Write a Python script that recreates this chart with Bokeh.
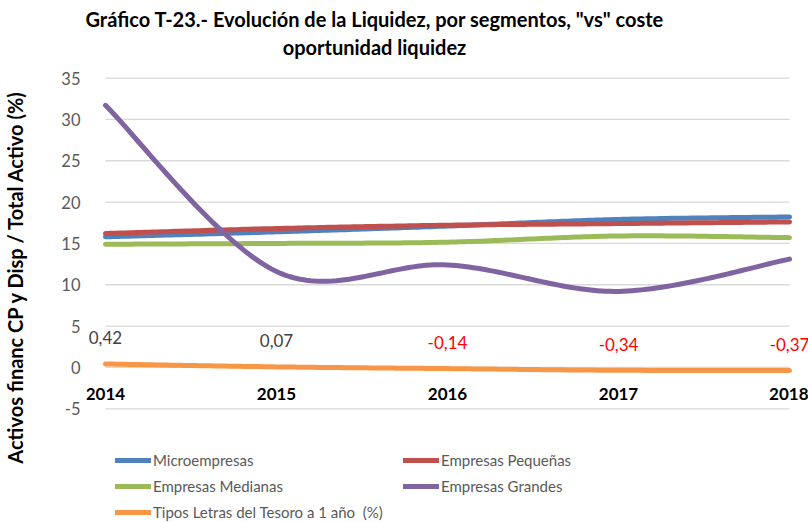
import numpy as np
from bokeh.plotting import figure
from bokeh.models import (Range1d, FixedTicker, Label, LabelSet, ColumnDataSource,
                          Legend, LegendItem, Title)
from bokeh.core.properties import value
from bokeh.embed import file_html
from bokeh.resources import INLINE

# ---------------- data ----------------
years = [2014, 2015, 2016, 2017, 2018]
year_labels = ["2014", "2015", "2016", "2017", "2018"]
microempresas = [15.8, 16.4, 17.1, 17.9, 18.2]
pequenas = [16.2, 16.8, 17.2, 17.4, 17.6]
medianas = [14.9, 15.0, 15.15, 15.9, 15.7]
grandes = [31.7, 11.6, 12.4, 9.2, 13.1]
letras = [0.42, 0.07, -0.14, -0.34, -0.37]
y_ticks = [-5, 0, 5, 10, 15, 20, 25, 30, 35]
y_tick_labels = ["-5", "0", "5", "10", "15", "20", "25", "30", "35"]

series_names = ["Microempresas", "Empresas Pequeñas", "Empresas Medianas",
                "Empresas Grandes", "Tipos Letras del Tesoro a 1 año  (%)"]
series_colors = ["#4F81BD", "#C0504D", "#9BBB59", "#8064A2", "#F79646"]

title_lines = ['Gráfico T-23.- Evolución de la Liquidez, por segmentos, "vs" coste',
               "oportunidad liquidez"]
y_title = "Activos financ CP y Disp / Total Activo (%)"

FONT = "Lato"


def smooth(xs, ys, n=40):
    """Smoothed line through the points (cubic Bezier, Excel-like smoothing)."""
    P = np.column_stack([np.asarray(xs, float), np.asarray(ys, float)])
    m = len(P)
    out = []
    for i in range(m - 1):
        p0 = P[i - 1] if i > 0 else P[i]
        p1, p2 = P[i], P[i + 1]
        p3 = P[i + 2] if i + 2 < m else P[i + 1]
        c1 = p1 + (p2 - p0) / 6.0
        c2 = p2 - (p3 - p1) / 6.0
        t = np.linspace(0, 1, n, endpoint=(i == m - 2))[:, None]
        seg = ((1 - t) ** 3) * p1 + 3 * ((1 - t) ** 2) * t * c1 + 3 * (1 - t) * t ** 2 * c2 + t ** 3 * p2
        out.append(seg)
    out = np.vstack(out)
    return out[:, 0], out[:, 1]


# view window (the frame also holds the labels and the legend)
x_view = (2013.889, 2018.111)
y_view = (-18.75, 40.75)

p = figure(width=808, height=522, x_range=Range1d(*x_view), y_range=Range1d(*y_view),
           output_backend="svg", toolbar_location=None, title=None,
           min_border_left=84, min_border_right=0, min_border_top=30, min_border_bottom=0)
p.outline_line_color = None
p.background_fill_color = "white"
p.border_fill_color = "white"
p.xgrid.grid_line_color = None
p.ygrid.grid_line_color = None

# y axis
p.yaxis.ticker = FixedTicker(ticks=y_ticks)
p.yaxis.major_label_overrides = {t: s for t, s in zip(y_ticks, y_tick_labels)}
p.yaxis.axis_line_color = None
p.yaxis.major_tick_line_color = None
p.yaxis.minor_tick_line_color = None
p.yaxis.major_label_standoff = 0
p.yaxis.major_label_text_font = FONT
p.yaxis.major_label_text_font_size = "16.5px"
p.yaxis.major_label_text_color = "#595959"
p.yaxis.axis_label = y_title
p.yaxis.axis_label_standoff = 31
p.yaxis.axis_label_text_font = FONT
p.yaxis.axis_label_text_font_style = "bold"
p.yaxis.axis_label_text_font_size = "20px"
p.yaxis.axis_label_text_color = "#000000"

# x axis at y = 0
p.xaxis.ticker = FixedTicker(ticks=years)
p.xaxis.major_label_overrides = {y: lab for y, lab in zip(years, year_labels)}
p.xaxis.fixed_location = 0
p.xaxis.axis_line_color = None
p.xaxis.major_tick_line_color = None
p.xaxis.minor_tick_line_color = None
p.xaxis.major_label_standoff = 15
p.xaxis.major_label_text_font = FONT
p.xaxis.major_label_text_font_style = "bold"
p.xaxis.major_label_text_font_size = "17px"
p.xaxis.major_label_text_color = "#000000"

# horizontal gridlines, spanning the category extent only
p.segment(x0=[years[0]] * len(y_ticks), x1=[years[-1]] * len(y_ticks),
          y0=y_ticks, y1=y_ticks, line_color="#D9D9D9", line_width=1.3)

# lines
renderers = []
for vals, col in zip([microempresas, pequenas, medianas, grandes, letras], series_colors):
    sx, sy = smooth(years, vals)
    r = p.line(sx, sy, line_color=col, line_width=5, line_cap="round", line_join="round")
    renderers.append(r)

# data labels of the treasury rate
lab_src = ColumnDataSource(dict(
    x=years, y=letras,
    text=[("%.2f" % v).replace(".", ",") for v in letras],
    color=["#FF0000" if v < 0 else "#404040" for v in letras],
))
p.add_layout(LabelSet(x="x", y="y", text="text", source=lab_src, text_color="color",
                      text_font=value(FONT), text_font_size="17px",
                      text_align="center", text_baseline="middle", y_offset=26))

# title: first line above the frame, second line inside it
p.add_layout(Title(text=title_lines[0], align="left", offset=-1, standoff=0,
                   text_font=FONT, text_font_style="bold", text_font_size="20px",
                   text_color="#000000"), "above")
p.add_layout(Label(x=288, y=476, x_units="screen", y_units="screen", text=title_lines[1],
                   text_font=FONT, text_font_style="bold", text_font_size="20px",
                   text_color="#000000", text_align="center", text_baseline="middle"))

# legend
items = [LegendItem(label=n, renderers=[r]) for n, r in zip(series_names, renderers)]
legend = Legend(items=items, orientation="horizontal", ncols=2, location=(29, 0),
                glyph_width=36, glyph_height=20, label_standoff=2, label_width=244,
                label_height=20, spacing=6, padding=0, margin=0,
                label_text_font=FONT, label_text_font_size="15px",
                label_text_color="#595959", border_line_color=None,
                background_fill_alpha=0)
p.add_layout(legend)

open("out.html", "w").write(file_html(p, INLINE))
